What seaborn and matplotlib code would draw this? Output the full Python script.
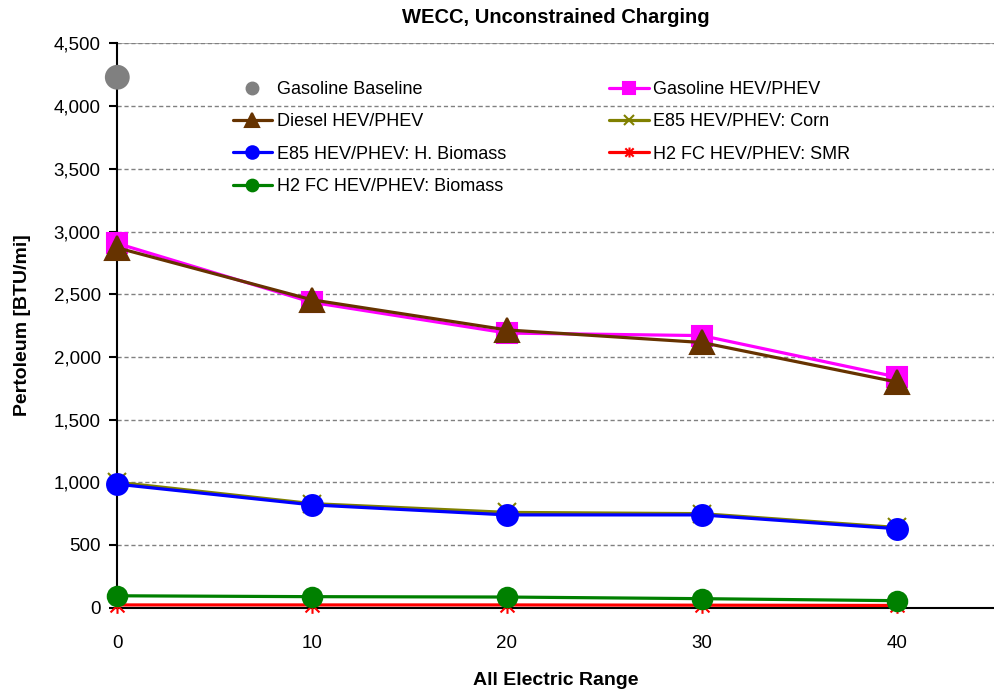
import numpy as np
import pandas as pd
import seaborn as sns
import matplotlib.pyplot as plt
from matplotlib.path import Path
from matplotlib.ticker import FuncFormatter

# all electric range (miles)
aer = [0, 10, 20, 30, 40]

baseline_x = [0]
baseline_y = [4230]

gasoline_hev = [2905, 2435, 2190, 2170, 1840]
diesel_hev = [2870, 2455, 2215, 2115, 1800]
e85_corn = [1000, 830, 760, 750, 640]
e85_biomass = [985, 820, 740, 740, 630]
h2_smr = [22, 22, 22, 20, 18]
h2_biomass = [95, 88, 85, 72, 56]

# excel style star: an x with a vertical bar through it
star = Path([(-1, -1), (1, 1), (-1, 1), (1, -1), (0, -1.2), (0, 1.2)],
            [Path.MOVETO, Path.LINETO, Path.MOVETO, Path.LINETO,
             Path.MOVETO, Path.LINETO])

series = [
    # label, values, color, marker, marker size
    ("Diesel HEV/PHEV", diesel_hev, "#663300", "^", 17),
    ("E85 HEV/PHEV: H. Biomass", e85_biomass, "#0000ff", "o", 15),
    ("H2 FC HEV/PHEV: Biomass", h2_biomass, "#008000", "o", 14),
    ("Gasoline HEV/PHEV", gasoline_hev, "#ff00ff", "s", 14),
    ("E85 HEV/PHEV: Corn", e85_corn, "#808000", "x", 13),
    ("H2 FC HEV/PHEV: SMR", h2_smr, "#ff0000", star, 12),
]

sns.set_theme(style="white")
plt.rcParams['font.family'] = ['Liberation Sans', 'DejaVu Sans']
plt.rcParams['text.color'] = 'black'
plt.rcParams['axes.labelcolor'] = 'black'
plt.rcParams['xtick.color'] = 'black'
plt.rcParams['ytick.color'] = 'black'

fig, ax = plt.subplots(figsize=(9.94, 6.89), dpi=100)
fig.subplots_adjust(left=0.118, right=1.0, top=0.937, bottom=0.118)

handles = {}
# draw order: back to front as in the original
order = ["Gasoline HEV/PHEV", "Diesel HEV/PHEV", "E85 HEV/PHEV: Corn",
         "E85 HEV/PHEV: H. Biomass", "H2 FC HEV/PHEV: SMR", "H2 FC HEV/PHEV: Biomass"]
lookup = {s[0]: s for s in series}
for name in order:
    label, vals, color, marker, ms = lookup[name]
    df = pd.DataFrame({"aer": aer, "val": vals})
    sns.lineplot(data=df, x="aer", y="val", color=color, marker=marker,
                 markersize=ms, markeredgecolor=color, markeredgewidth=1.5,
                 linewidth=2.3, ax=ax, label=label, clip_on=False, zorder=3)
    handles[label] = ax.get_lines()[-1]

sns.scatterplot(x=baseline_x, y=baseline_y, color="#808080", s=320,
                edgecolor="none", ax=ax, clip_on=False, zorder=3)
base_handle = plt.Line2D([], [], color="#808080", marker="o", linestyle="none",
                         markersize=15)

legend_items = [("Gasoline Baseline", base_handle)]
legend_items += [(s[0], handles[s[0]]) for s in series]
leg = ax.legend([h for _, h in legend_items], [l for l, _ in legend_items],
                ncol=2, loc="upper left", bbox_to_anchor=(0.113, 0.962),
                frameon=False, fontsize=13, markerscale=0.6,
                handlelength=2.2, handletextpad=0.25, columnspacing=5.7,
                labelspacing=0.85)

ax.set_xlim(0, 45)
ax.set_ylim(0, 4500)
ax.set_xticks(aer)
ax.set_yticks(np.arange(0, 4501, 500))
ax.yaxis.set_major_formatter(FuncFormatter(lambda v, p: f"{int(v):,}"))
ax.yaxis.grid(True, linestyle=(0, (3, 2)), color="#808080", linewidth=1)
ax.set_axisbelow(True)

for side in ["top", "right"]:
    ax.spines[side].set_visible(False)
for side in ["left", "bottom"]:
    ax.spines[side].set_color("#000000")
    ax.spines[side].set_linewidth(1.5)
ax.axhline(4500, color="#a0a0a0", linewidth=1.2, zorder=0)

ax.tick_params(axis="y", left=True, length=6, width=1.5, color="black",
               labelsize=13.5, pad=6)
ax.tick_params(axis="x", bottom=False, labelsize=13.5, pad=14)

ax.set_title("WECC, Unconstrained Charging", fontsize=14.5, fontweight="bold",
             pad=15)
ax.set_xlabel("All Electric Range", fontsize=14, fontweight="bold", labelpad=14)
ax.set_ylabel("Pertoleum [BTU/mi]", fontsize=14, fontweight="bold", labelpad=16)

plt.savefig("out.png", dpi=100)
